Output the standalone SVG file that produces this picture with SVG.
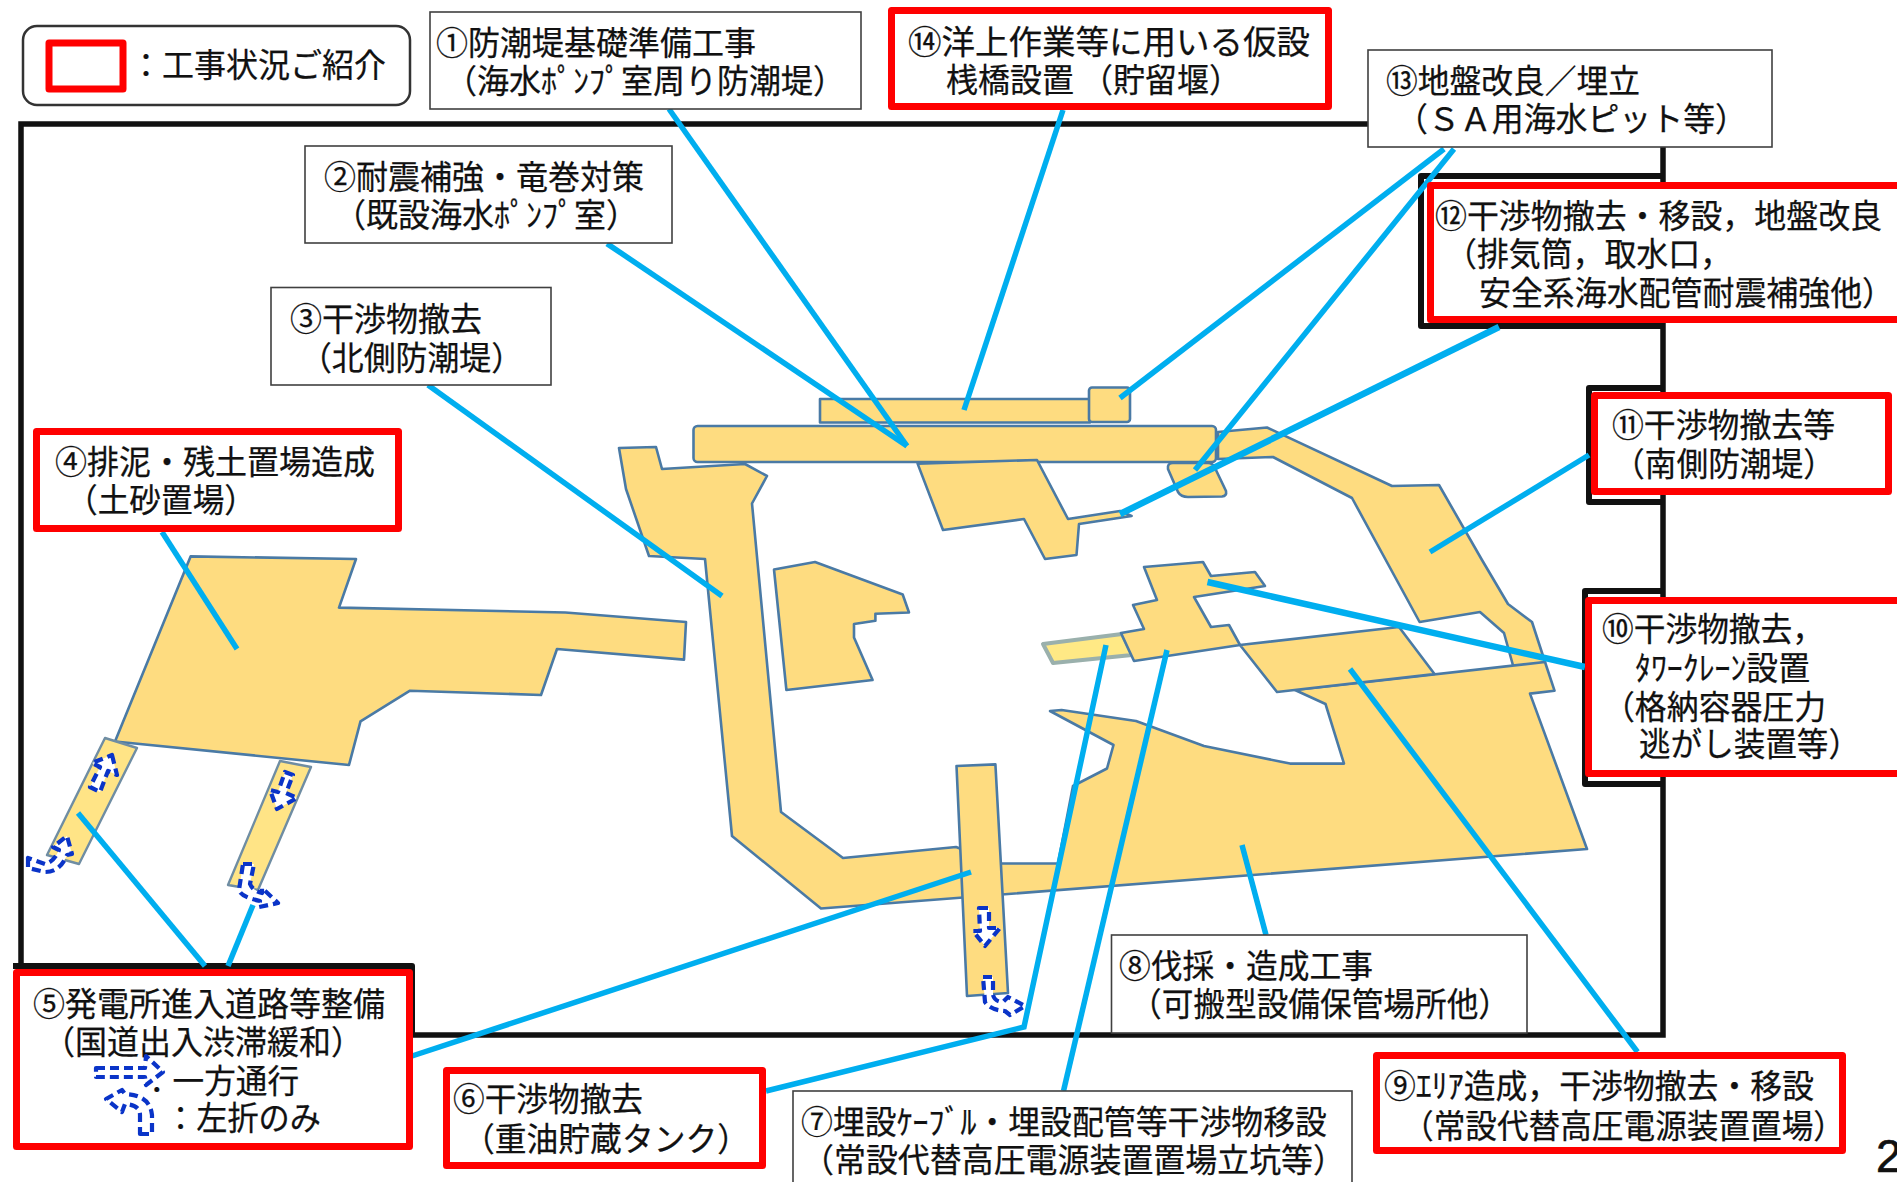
<svg xmlns="http://www.w3.org/2000/svg" width="1897" height="1182" viewBox="0 0 1897 1182">
<style>
text{font-family:"Noto Sans CJK JP","Noto Sans",sans-serif;font-size:33px;fill:#111;stroke:#111;stroke-width:.25;}
.num{font-family:"Liberation Sans",sans-serif;font-size:46px;stroke-width:.7;}
.box{fill:#fff;stroke:#404040;stroke-width:1.6;}
.red{fill:#fff;stroke:#f00;stroke-width:7;stroke-linejoin:round;}
.sh{fill:none;stroke:#111;stroke-width:6;stroke-linejoin:round;}
.y{fill:#fedc80;stroke:#4a7aa5;stroke-width:2.6;stroke-linejoin:round;}
.yl{fill:#ffe486;stroke:#6f8da3;stroke-width:2.4;stroke-linejoin:round;}
.glow{fill:#ffe985;stroke:#9ab0ac;stroke-width:4;stroke-linejoin:round;}
.cn{fill:none;stroke:#00aeef;stroke-width:5.5;}
.cw{fill:none;stroke:#00aeef;stroke-width:6.5;}
.ar{fill:#fff;stroke:#0a34c8;stroke-width:4.2;stroke-dasharray:9 5;stroke-linejoin:round;}
</style>
<rect width="1897" height="1182" fill="#fff"/>
<g id="frame"><rect x="21" y="124" width="1642" height="911" fill="#fff" stroke="#111" stroke-width="5.5"/></g>
<g id="site">
<polygon class="y" points="190.6,556.4 356,559 339,607.6 565.4,612.5 686,622 684,659.6 557,649 541,695 410,690.7 360.5,721.4 349,765 115,741.5"/>
<polygon class="y" points="1218,432 1267,427.5 1392,486 1439,485 1482,560 1508,604 1532,622 1545,662 1514,669 1504,633 1480,612 1419.6,622 1352,498 1273,457 1218,459"/>
<polygon class="y" points="619,448 656,447 662,469 745,464 767,476 752,503.5 781,812 843,858 956,847 1000,863.5 1058,863.5 1073,786 1107,768.5 1113.5,745 1050,711 1061.6,710 1136,721 1204,746 1290,763.6 1344,763.6 1325.5,704 1295,690 1545,662 1554.5,690.7 1530,693.6 1587,849 821,908.5 732,836 705,559 649,556 626,489"/>
<polygon class="y" points="1240,645 1399,627 1434.5,674 1277,692"/>
<rect class="y" x="820" y="399" width="270" height="23.5"/>
<rect class="y" x="1089" y="387.5" width="41" height="34.5" rx="3"/>
<rect class="y" x="693.5" y="426" width="522.5" height="36" rx="4"/>
<polygon class="y" points="917.6,463.6 1037,460 1068,519 1120,511 1131.6,516 1079,524 1076.5,555 1045,559 1024,519 943,530"/>
<path class="y" d="M1173 463H1208Q1213 463 1215 468L1226 491Q1227 496 1222 496.5L1188 497Q1181 497 1178 492L1168 469Q1167 463 1173 463Z"/>
<polygon class="y" points="774,569.5 815,562 902.7,594.5 909,612.5 875.4,613.7 875.4,620.7 854,624 854,637.5 872.6,680 786.4,690"/>
<polygon class="glow" points="1043,644 1122,634 1132,655 1053,663"/>
<polygon class="y" points="1144,567 1203,562 1211,576 1255,572 1265,586 1194,597 1211,627 1229,625 1240,645 1134,661 1121,633 1144,629 1133,605 1157,600"/>
<polygon class="yl" points="105,738 137,748 79,864 47,855"/>
<polygon class="yl" points="280,761 311,767 258,890 228,885"/>
<polygon class="y" points="956.5,766 995.4,764.4 1008,993 967,996"/>
</g>
<g id="shadows">
<path class="sh" d="M1663 176H1421V326H1663"/>
<path class="sh" d="M1663 388H1589V502H1663"/>
<path class="sh" d="M1663 591H1585V784H1663"/>
<path class="sh" d="M13 966H412V1035"/>
</g>
<g id="connectors">
<path class="cn" d="M669 109L907 446"/>
<path class="cn" d="M607 243.6L907 446"/>
<path class="cn" d="M428 385L722 596"/>
<path class="cn" d="M162 532L237 649"/>
<path class="cn" d="M78 813L205 966"/>
<path class="cn" d="M253 905L228 966"/>
<path class="cn" d="M409 1057L971 872"/>
<path class="cn" d="M766 1091L1024 1027L1106 645"/>
<path class="cn" d="M1063.5 1091L1167 650"/>
<path class="cn" d="M1266 935L1242 845"/>
<path class="cn" d="M1637.5 1052L1350 669"/>
<path class="cw" d="M1585 667L1207.5 582"/>
<path class="cn" d="M1589 455L1430 552"/>
<path class="cw" d="M1499 327L1120 514"/>
<path class="cn" d="M1444 149L1120 398"/>
<path class="cn" d="M1454 149L1195 470"/>
<path class="cn" d="M1063 110L964 410"/>
</g>
<g id="arrows">
<polygon class="ar" points="112,755 117,775 108,771 100,792 90,787 100,767 92,763"/>
<polygon class="ar" points="285,772 293,775 286,793 297,798 277,809 270,790 278,792"/>
<path class="ar" d="M28 858L28 868L45 872Q60 872 67 855L72 854L67 836L53 847L59 850Q54 862 45 864Z"/>
<path class="ar" d="M243 864L254 864L250 884Q253 891 262 893L262 888L278 903L259 907L260 901Q241 897 239 890Z"/>
<polygon class="ar" points="979,908 989,908 989,928 1000,928 985,946 973,931 980,931"/>
<path class="ar" d="M983 977L993 977L993 995Q995 1002 1003 1002L1008 997L1025 1006L1010 1015L1005 1011Q990 1010 985 1002Z"/>
</g>
<g id="legend">
<rect x="23" y="26" width="387" height="79" rx="14" fill="#fff" stroke="#333" stroke-width="2.5"/>
<rect class="red" x="49" y="43" width="74" height="46"/>
<text x="130" y="77" textLength="256" lengthAdjust="spacingAndGlyphs">：工事状況ご紹介</text>
</g>
<g id="n1"><rect class="box" x="430" y="12" width="431" height="97"/>
<text x="436" y="55" textLength="320" lengthAdjust="spacingAndGlyphs">①防潮堤基礎準備工事</text>
<text x="445" y="93" textLength="400" lengthAdjust="spacingAndGlyphs">（海水ﾎﾟﾝﾌﾟ室周り防潮堤）</text></g>
<g id="n2"><rect class="box" x="305" y="146" width="367" height="97"/>
<text x="324" y="189" textLength="320" lengthAdjust="spacingAndGlyphs">②耐震補強・竜巻対策</text>
<text x="334" y="227" textLength="304" lengthAdjust="spacingAndGlyphs">（既設海水ﾎﾟﾝﾌﾟ室）</text></g>
<g id="n3"><rect class="box" x="271" y="287.5" width="280" height="97.5"/>
<text x="290" y="331" textLength="192" lengthAdjust="spacingAndGlyphs">③干渉物撤去</text>
<text x="300" y="370" textLength="223" lengthAdjust="spacingAndGlyphs">（北側防潮堤）</text></g>
<g id="n4"><rect class="red" x="36.5" y="431.5" width="362" height="97"/>
<text x="55" y="474" textLength="320" lengthAdjust="spacingAndGlyphs">④排泥・残土置場造成</text>
<text x="66" y="512" textLength="190" lengthAdjust="spacingAndGlyphs">（土砂置場）</text></g>
<g id="n5"><rect class="red" x="16.5" y="972.5" width="393" height="174"/>
<text x="33" y="1016" textLength="352" lengthAdjust="spacingAndGlyphs">⑤発電所進入道路等整備</text>
<text x="43" y="1054" textLength="320" lengthAdjust="spacingAndGlyphs">（国道出入渋滞緩和）</text>
<text x="141" y="1093" textLength="158" lengthAdjust="spacingAndGlyphs">：一方通行</text>
<text x="165" y="1130" textLength="156" lengthAdjust="spacingAndGlyphs">：左折のみ</text>
<polygon class="ar" points="96,1068 145,1068 146,1056 163,1072 146,1085 145,1077 96,1077"/>
<path class="ar" d="M140 1134L152 1134L152 1115Q150 1095 125 1094L122 1090L106 1099L122 1112L125 1104Q140 1105 140 1115Z"/></g>
<g id="n6"><rect class="red" x="446.5" y="1070.5" width="316" height="95"/>
<text x="453" y="1111" textLength="190" lengthAdjust="spacingAndGlyphs">⑥干渉物撤去</text>
<text x="463" y="1151" textLength="286" lengthAdjust="spacingAndGlyphs">（重油貯蔵タンク）</text></g>
<g id="n7"><rect class="box" x="793" y="1091" width="559" height="100"/>
<text x="801" y="1134" textLength="526" lengthAdjust="spacingAndGlyphs">⑦埋設ｹｰﾌﾞﾙ・埋設配管等干渉物移設</text>
<text x="802" y="1172" textLength="543" lengthAdjust="spacingAndGlyphs">（常設代替高圧電源装置置場立坑等）</text></g>
<g id="n8"><rect class="box" x="1111.5" y="935" width="415.5" height="98"/>
<text x="1119" y="978" textLength="254" lengthAdjust="spacingAndGlyphs">⑧伐採・造成工事</text>
<text x="1130" y="1016" textLength="380" lengthAdjust="spacingAndGlyphs">（可搬型設備保管場所他）</text></g>
<g id="n9"><rect class="red" x="1376.5" y="1055.5" width="466" height="95"/>
<text x="1384" y="1098" textLength="430" lengthAdjust="spacingAndGlyphs">⑨ｴﾘｱ造成，干渉物撤去・移設</text>
<text x="1402" y="1138" textLength="443" lengthAdjust="spacingAndGlyphs">（常設代替高圧電源装置置場）</text></g>
<g id="n10"><rect class="red" x="1588.5" y="600.5" width="320" height="173"/>
<text x="1602" y="641" textLength="222" lengthAdjust="spacingAndGlyphs">⑩干渉物撤去，</text>
<text x="1635" y="680" textLength="175" lengthAdjust="spacingAndGlyphs">ﾀﾜｰｸﾚｰﾝ設置</text>
<text x="1603" y="719" textLength="223" lengthAdjust="spacingAndGlyphs">（格納容器圧力</text>
<text x="1639" y="756" textLength="221" lengthAdjust="spacingAndGlyphs">逃がし装置等）</text></g>
<g id="n11"><rect class="red" x="1594.5" y="395.5" width="294" height="96"/>
<text x="1612" y="437" textLength="223" lengthAdjust="spacingAndGlyphs">⑪干渉物撤去等</text>
<text x="1613" y="476" textLength="222" lengthAdjust="spacingAndGlyphs">（南側防潮堤）</text></g>
<g id="n12"><rect class="red" x="1430.5" y="185.5" width="480" height="134"/>
<text x="1435" y="228" textLength="447" lengthAdjust="spacingAndGlyphs">⑫干渉物撤去・移設，地盤改良</text>
<text x="1445" y="266" textLength="287" lengthAdjust="spacingAndGlyphs">（排気筒，取水口，</text>
<text x="1479" y="305" textLength="415" lengthAdjust="spacingAndGlyphs">安全系海水配管耐震補強他）</text></g>
<g id="n13"><rect class="box" x="1368" y="50" width="404" height="97"/>
<text x="1386" y="93" textLength="254" lengthAdjust="spacingAndGlyphs">⑬地盤改良／埋立</text>
<text x="1396" y="131" textLength="351" lengthAdjust="spacingAndGlyphs">（ＳＡ用海水ピット等）</text></g>
<g id="n14"><rect class="red" x="891.5" y="10.5" width="437" height="96"/>
<text x="908" y="54" textLength="402" lengthAdjust="spacingAndGlyphs">⑭洋上作業等に用いる仮設</text>
<text x="946" y="92" textLength="295" lengthAdjust="spacingAndGlyphs">桟橋設置 （貯留堰）</text></g>
<g id="page"><text class="num" x="1876" y="1172">2</text></g>
</svg>
